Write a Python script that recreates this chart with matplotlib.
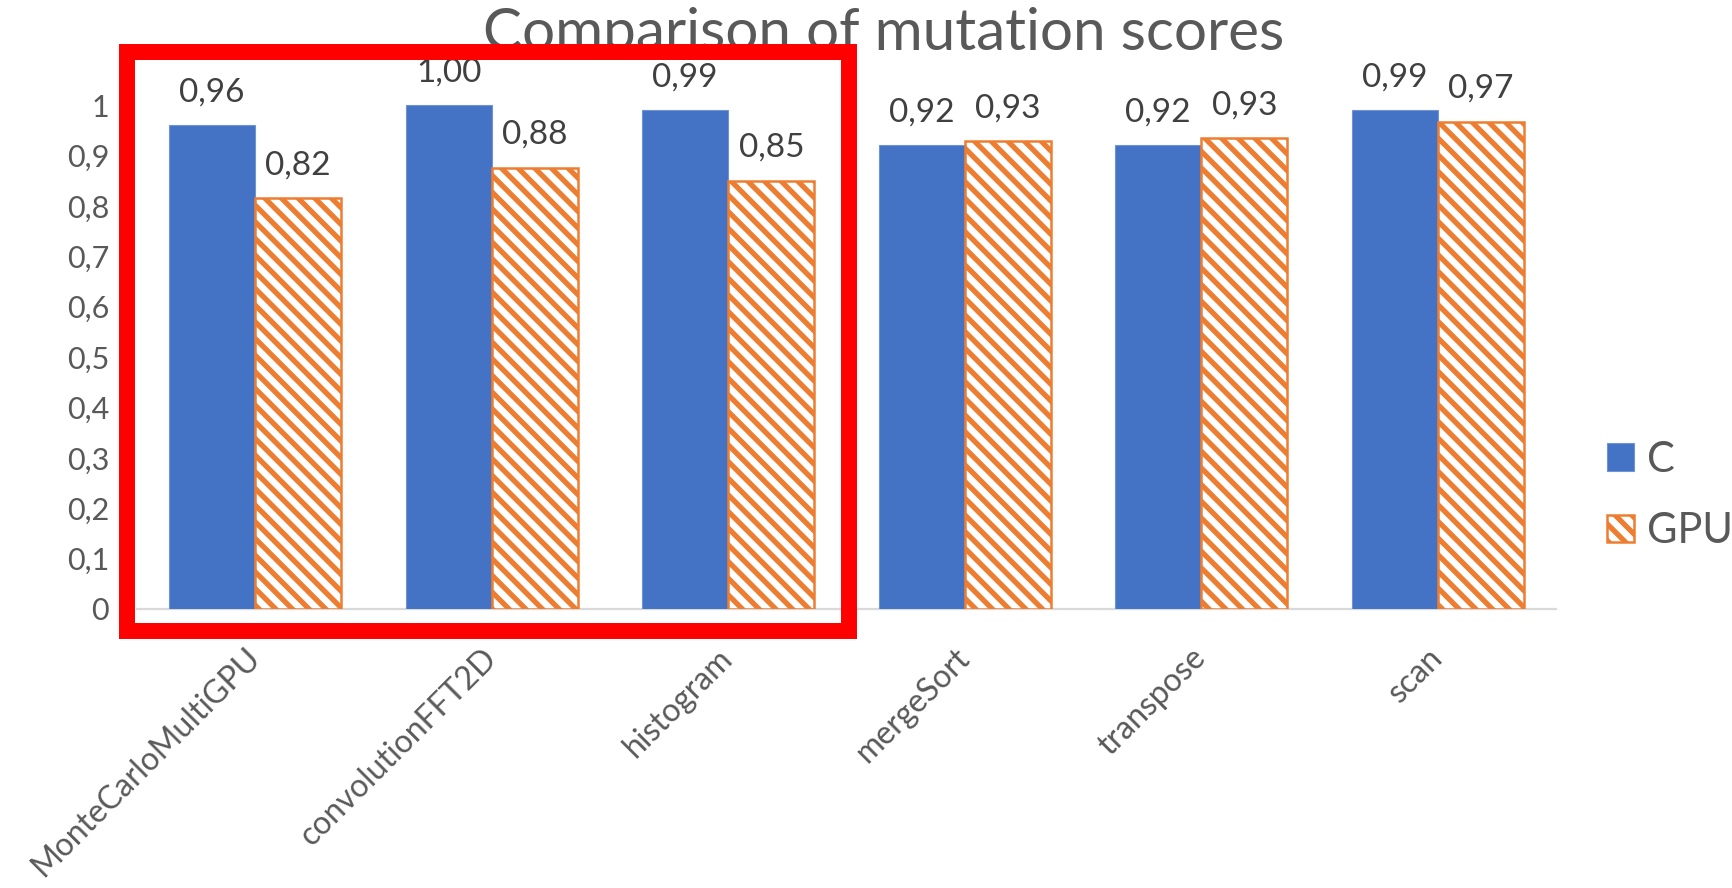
import numpy as np
import matplotlib
matplotlib.use("Agg")
import matplotlib.pyplot as plt
from matplotlib.patches import Rectangle

# data
benchmarks = ["MonteCarloMultiGPU", "convolutionFFT2D", "histogram", "mergeSort", "transpose", "scan"]
score_c = [0.96, 1.00, 0.99, 0.92, 0.92, 0.99]
score_gpu = [0.815, 0.876, 0.85, 0.928, 0.934, 0.967]
label_c = ["0,96", "1,00", "0,99", "0,92", "0,92", "0,99"]
label_gpu = ["0,82", "0,88", "0,85", "0,93", "0,93", "0,97"]
yticks = [0, 0.1, 0.2, 0.3, 0.4, 0.5, 0.6, 0.7, 0.8, 0.9, 1.0]
ytick_labels = ["0", "0,1", "0,2", "0,3", "0,4", "0,5", "0,6", "0,7", "0,8", "0,9", "1"]

plt.rcParams["font.family"] = ["Lato", "DejaVu Sans"]
plt.rcParams["hatch.linewidth"] = 3.8

blue = "#4472C4"
orange = "#ED7D31"
grey = "#595959"

fig = plt.figure(figsize=(17.32, 8.88), dpi=100)
ax = fig.add_axes([0.0791, 0.3142, 0.8193, 0.6243])

x = np.arange(len(benchmarks))
w = 0.364
bars_c = ax.bar(x - w / 2, score_c, w, color=blue, edgecolor="#6f93d3", linewidth=0.8, label="C")
bars_g = ax.bar(x + w / 2, score_gpu, w, color="white", edgecolor=orange, hatch="\\\\", linewidth=1.8, label="GPU")

for b, t in zip(bars_c, label_c):
    ax.text(b.get_x() + b.get_width() / 2, b.get_height() + 0.035, t, ha="center", va="bottom",
            fontsize=24, color="#404040")
for b, t in zip(bars_g, label_gpu):
    ax.text(b.get_x() + b.get_width() / 2, b.get_height() + 0.035, t, ha="center", va="bottom",
            fontsize=24, color="#404040")

ax.set_xlim(-0.5, len(benchmarks) - 0.5)
ax.set_ylim(0, 1.1)
ax.set_yticks(yticks)
ax.set_yticklabels(ytick_labels, fontsize=22, color=grey)
ax.set_xticks(x)
ax.set_xticklabels(benchmarks, rotation=45, ha="right", va="center", rotation_mode="anchor",
                   fontsize=23, color=grey)
ax.tick_params(axis="both", length=0)
ax.tick_params(axis="y", pad=20)
ax.tick_params(axis="x", pad=32)
for s in ["top", "right", "left"]:
    ax.spines[s].set_visible(False)
ax.spines["bottom"].set_color("#D9D9D9")
ax.spines["bottom"].set_linewidth(1.6)
ax.spines["bottom"].set_zorder(0)

fig.text(0.51, 0.962, "Comparison of mutation scores", ha="center", va="center", fontsize=42, color=grey)

leg = fig.legend(handles=[bars_c, bars_g], labels=["C", "GPU"], loc="center left",
                 bbox_to_anchor=(0.911, 0.442), frameon=False, fontsize=30,
                 handlelength=0.65, handleheight=0.65, handletextpad=0.3, labelspacing=0.8,
                 borderpad=0.2)
for t in leg.get_texts():
    t.set_color(grey)

# red highlight box around the first three groups
fig.patches.append(Rectangle((127 / 1732, 1 - 631 / 888), (849 - 127) / 1732, (631 - 52) / 888,
                             transform=fig.transFigure, fill=False, edgecolor="red",
                             linewidth=11.5, zorder=10, joinstyle="miter"))

fig.savefig("out.png", dpi=100)
